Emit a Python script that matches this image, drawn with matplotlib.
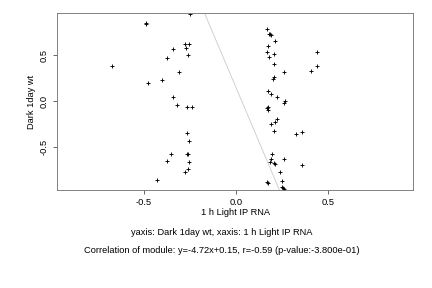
import numpy as np
import matplotlib
matplotlib.use("Agg")
import matplotlib.pyplot as plt

######## DATA ########

x_vals = [
    -0.489, -0.487, -0.250, -0.277, -0.272, -0.254, -0.341, -0.259, -0.373,
    -0.308, -0.676, -0.400, -0.477, -0.341, -0.319, -0.265, -0.237, -0.265,
    -0.254, -0.355, -0.265, -0.262, -0.373, -0.254, -0.259, -0.277, -0.428,
    0.168, 0.178, 0.185, 0.190, 0.214, 0.175, 0.168, 0.178, 0.208, 0.442,
    0.208, 0.442, 0.409, 0.263, 0.208, 0.199, 0.175, 0.192, 0.225, 0.266,
    0.259, 0.172, 0.168, 0.172, 0.225, 0.212, 0.192, 0.208, 0.326, 0.360,
    0.197, 0.263, 0.192, 0.185, 0.207, 0.212, 0.360, 0.241, 0.252, 0.168,
    0.175, 0.248, 0.254, 0.261,
]
y_vals = [
    0.843, 0.846, 0.949, 0.620, 0.576, 0.626, 0.568, 0.503, 0.470,
    0.322, 0.384, 0.232, 0.202, 0.047, -0.040, -0.062, -0.062, -0.345,
    -0.432, -0.573, -0.573, -0.571, -0.649, -0.660, -0.736, -0.768, -0.855,
    0.786, 0.728, 0.728, 0.720, 0.655, 0.601, 0.539, 0.485, 0.514, 0.536,
    0.405, 0.384, 0.329, 0.318, 0.261, 0.242, 0.115, 0.083, 0.047, 0.003,
    -0.018, -0.062, -0.076, -0.091, -0.189, -0.222, -0.247, -0.323, -0.355,
    -0.334, -0.576, -0.627, -0.630, -0.663, -0.674, -0.682, -0.692, -0.768,
    -0.866, -0.874, -0.885, -0.935, -0.946, -0.950,
]
slope = -4.72
intercept = 0.15
x_ticks = [-0.5, 0.0, 0.5]
y_ticks = [-0.5, 0.0, 0.5]
x_label = "1 h Light IP RNA"
y_label = "Dark 1day wt"
caption_1 = "yaxis: Dark 1day wt, xaxis: 1 h Light IP RNA"
caption_2 = "Correlation of module: y=-4.72x+0.15, r=-0.59 (p-value:-3.800e-01)"

######## PLOT ########

plt.rcParams["font.family"] = ["Liberation Sans", "DejaVu Sans"]
FS = 9.2

fig = plt.figure(figsize=(6, 4), dpi=72)
ax = fig.add_axes([0.132, 0.34, 0.824, 0.615])

xlim = (-0.973, 0.962)
ylim = (-0.964, 0.96)

line_x = np.array(xlim)
ax.plot(line_x, slope * line_x + intercept, color="#c8c8c8", linewidth=0.8)
ax.scatter(x_vals, y_vals, marker="+", color="black", s=18, linewidths=0.9)

ax.set_xlim(*xlim)
ax.set_ylim(*ylim)
ax.set_xticks(x_ticks)
ax.set_yticks(y_ticks)
ax.set_xticklabels([f"{t:.1f}" for t in x_ticks])
ax.set_yticklabels([f"{t:.1f}" for t in y_ticks], rotation=90, va="center")
ax.tick_params(labelsize=FS, length=4, width=0.8, color="#444444", pad=4)
for sp in ax.spines.values():
    sp.set_color("#777777")
    sp.set_linewidth(0.9)

ax.set_xlabel(x_label, fontsize=FS, labelpad=1)
ax.set_ylabel(y_label, fontsize=FS, labelpad=4)

fig.text(0.514, 0.194, caption_1, ha="center", va="center", fontsize=FS)
fig.text(0.514, 0.131, caption_2, ha="center", va="center", fontsize=FS)

fig.savefig("out.png", dpi=72)
